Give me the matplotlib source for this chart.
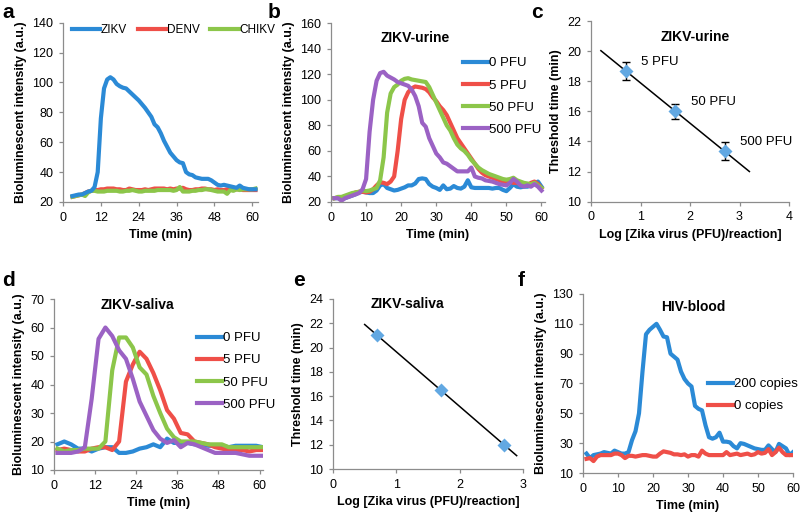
import matplotlib
matplotlib.use("Agg")
import matplotlib.pyplot as plt
import numpy as np

plt.rcParams['font.family'] = ['Liberation Sans', 'DejaVu Sans']

BLUE = '#2b8ad6'
RED = '#ef4f48'
GREEN = '#8cc64a'
PURPLE = '#9b62c4'
DIAMOND = '#62a8e2'

# --- panel a: ZIKV / DENV / CHIKV, t = 3..61 min ---
t_a = np.arange(3, 62)
zikv_a = [24, 24.5, 25, 25, 26, 27, 27.5, 30, 40, 76, 96, 102, 103.5, 102, 99, 97.5, 96.5, 96,
          94, 92, 90, 88, 85.5, 83, 80, 77, 72, 70, 66, 61, 57, 53, 50.5, 48, 46.5, 46, 40,
          38.5, 38, 36.5, 36, 35.5, 35.5, 35.5, 34.5, 33, 31.5, 31, 31.5, 31, 30.5, 30, 29.5,
          31, 29.5, 29, 28.5, 28.5, 28.5]
denv_a = [23.5, 24, 24.5, 25, 26, 27, 27.5, 28, 28, 28.5, 28.5, 29, 29, 29, 28.5, 28.5, 28, 28,
          29, 28.5, 28, 28, 28, 28.5, 28, 28.5, 29, 29, 29, 29, 28.5, 29, 28.5, 29, 29, 29.5,
          28.5, 28, 28, 28.5, 28.5, 29, 29, 28.5, 28.5, 28, 28.5, 28, 28, 28.5, 28.5, 28, 28.5,
          28.5, 28, 28, 28, 28, 28]
chikv_a = [23.5, 24, 24.5, 25, 24, 26.5, 27.5, 27.5, 27, 27, 27, 27.5, 27.5, 27.5, 27.5, 27, 27,
           27.5, 27.5, 28, 27.5, 27, 27, 27.5, 27.5, 27.5, 27.5, 28, 28, 28, 28, 28, 27.5, 28,
           30, 27, 27, 27, 27.5, 27.5, 28, 28, 28.5, 28.5, 28, 27.5, 27, 27, 27, 25.5, 28, 27.5,
           28.5, 28, 28.5, 28.5, 28.5, 28.5, 29]

# --- panel b: ZIKV-urine, t = 1..60 min ---
t_b = np.arange(1, 61)
pfu0_b = [23, 23, 22.5, 23, 24, 25, 26, 27.5, 28, 27.5, 27, 27, 29, 33, 34, 31, 30, 29, 29.5, 30.5,
          31.5, 33, 33, 34.5, 38, 38.5, 38, 34, 32, 31, 29.5, 33, 30, 30.5, 32.5, 31, 30.5, 32, 37,
          31.5, 31, 31, 31, 31, 31, 30.5, 31, 31, 29.5, 28.5, 31, 34, 32, 31.5, 32, 32, 33, 34, 36, 32]
pfu5_b = [23, 23.5, 23, 24, 25, 26, 27.5, 28, 28, 27.5, 28, 30, 33, 35.5, 35, 34, 36, 40, 60, 85,
          100, 106, 109, 110.5, 110, 109.5, 108.5, 106, 102, 99, 95, 92, 88, 82, 76, 70, 66, 62, 58,
          54, 50, 46, 43, 41, 40, 39, 38, 37, 36, 35, 36, 35, 35, 34, 33, 33, 35, 36, 34, 31]
pfu50_b = [23, 24, 24, 25, 26, 27, 27.5, 28, 29, 28.5, 29, 30, 31, 37, 55, 90, 105, 110, 112, 115,
           116.5, 117, 116, 115.5, 115, 114.5, 114, 110, 104, 98, 92, 86, 80, 76, 70, 65, 62, 60,
           57, 53, 50, 47, 45, 43.5, 42, 41, 40, 39, 38, 37.5, 38, 39, 37, 36, 35, 34.5, 34, 35, 33, 31]
pfu500_b = [23, 23, 21, 23, 24, 25, 26, 27, 30, 38, 75, 100, 115, 121, 122, 119, 117.5, 116, 114,
            113, 112, 111, 108, 103, 95, 82, 79, 70, 64, 58, 55, 51, 50, 48, 46, 44, 44, 44, 44, 47,
            40, 39, 38.5, 37, 36.5, 36, 35, 34, 33.5, 33, 35, 38, 36, 33, 32, 33, 32, 34, 32, 29]

# --- panel c: ZIKV-urine threshold times ---
log_c = [0.7, 1.7, 2.7]
thr_c = [18.7, 16.0, 13.35]
err_c = [0.6, 0.5, 0.6]
lab_c = ['5 PFU', '50 PFU', '500 PFU']

# --- panel d: ZIKV-saliva, t = 1..61 min (2 min steps) ---
t_d = np.arange(1, 62, 2)
pfu0_d = [19, 20, 19, 17.5, 17.5, 16.5, 17.5, 18, 18, 16, 16, 16.5, 17.5, 18, 19, 18, 21, 19.5,
          19.5, 19.5, 19, 19, 18.5, 18.5, 18.5, 18, 18.5, 18.5, 18.5, 18.5, 18]
pfu5_d = [17, 17.5, 17, 16.5, 16.5, 17.5, 18, 18, 17, 20, 41, 47, 51.5, 49, 44, 38, 31, 28, 23,
          22.5, 20, 19.5, 19, 18, 17.5, 17, 17, 17, 16.5, 17, 17]
pfu50_d = [17.5, 16.5, 17, 17, 17.5, 17.5, 17.5, 20, 45, 56.5, 56.5, 53, 46, 43.5, 36, 30, 24.5,
           21.5, 20, 20, 20, 19.5, 19, 19, 19, 18, 18, 18, 18, 18, 18]
pfu500_d = [16, 16, 16, 16.5, 18, 35, 56, 60, 57, 52, 49, 42, 34, 29, 24, 21, 19.5, 20.5, 18, 19.5,
            19, 18, 17, 16, 16, 16, 16, 15.5, 15, 15, 15]

# --- panel e: ZIKV-saliva threshold times ---
log_e = [0.7, 1.7, 2.7]
thr_e = [21.0, 16.5, 12.0]

# --- panel f: HIV-blood, t = 1..60 min ---
t_f = np.arange(1, 61)
hiv200_f = [23, 20, 22, 22.5, 23, 24, 23.5, 23, 25, 24, 23, 23, 24, 32, 38, 50, 78, 103, 106, 108,
            110, 106, 101.5, 101, 90, 88, 86, 78, 73, 70, 68, 55, 53, 52, 42, 34, 33, 34, 37, 31,
            31, 30.5, 28, 26.5, 30, 29.5, 28.5, 27.5, 26.5, 26, 25.5, 25.5, 28.5, 26, 24, 29.5, 28,
            26.5, 22, 24]
hiv0_f = [19.5, 20, 18, 21, 22, 22, 22, 22, 23, 23, 22, 20, 21.5, 21.5, 21, 21.5, 22, 22, 21.5, 21,
          21, 23, 24.5, 24, 23.5, 22.5, 22.5, 22, 22.5, 21, 22, 22, 21, 25, 23, 22, 22, 22, 22, 22,
          24, 22, 22.5, 23, 22, 22.5, 23, 22, 22.5, 24, 23, 23.5, 26, 22, 24, 27, 24, 22, 22, 22]

W, H = 800, 514
fig = plt.figure(figsize=(W / 100, H / 100), dpi=100)


def make_axes(x0, x1, ytop, ybot):
    # pixel box -> figure fraction
    return fig.add_axes([x0 / W, 1 - ybot / H, (x1 - x0) / W, (ybot - ytop) / H])


def style(ax):
    for s in ['top', 'right']:
        ax.spines[s].set_visible(False)
    for s in ['left', 'bottom']:
        ax.spines[s].set_color('#8c8c8c')
        ax.spines[s].set_linewidth(0.9)
    ax.tick_params(direction='out', length=3, width=0.9, color='#8c8c8c',
                   labelsize=9, pad=4)


lw = 3.0
leg_kw = dict(frameon=False, fontsize=9.5, handlelength=1.9, handletextpad=0.05,
              borderpad=0, borderaxespad=0, loc='upper left')

# a
ax = make_axes(63, 258, 22.7, 202)
ax.plot(t_a, zikv_a, color=BLUE, lw=lw, label='ZIKV', zorder=3)
ax.plot(t_a, denv_a, color=RED, lw=lw, label='DENV', zorder=2)
ax.plot(t_a, chikv_a, color=GREEN, lw=lw, label='CHIKV', zorder=2.5)
ax.set_xlim(0, 61.8)
ax.set_ylim(20, 140)
ax.set_xticks(np.arange(0, 61, 12))
ax.set_yticks(np.arange(20, 141, 20))
ax.set_xlabel('Time (min)', fontsize=9, fontweight='bold')
ax.set_ylabel('Bioluminescent intensity (a.u.)', fontsize=9, fontweight='bold')
style(ax)
ax.legend(ncol=3, bbox_to_anchor=(0.046, 0.99), columnspacing=0.9,
          **{**leg_kw, 'handlelength': 2.4, 'fontsize': 8.5})

# b
ax = make_axes(331, 545, 23.3, 202)
ax.plot(t_b, pfu0_b, color=BLUE, lw=lw, label='0 PFU')
ax.plot(t_b, pfu5_b, color=RED, lw=lw, label='5 PFU')
ax.plot(t_b, pfu50_b, color=GREEN, lw=lw, label='50 PFU')
ax.plot(t_b, pfu500_b, color=PURPLE, lw=lw, label='500 PFU')
ax.set_xlim(0, 61)
ax.set_ylim(20, 160)
ax.set_xticks(np.arange(0, 61, 10))
ax.set_yticks(np.arange(20, 161, 20))
ax.set_xlabel('Time (min)', fontsize=9, fontweight='bold')
ax.set_ylabel('Bioluminescent intensity (a.u.)', fontsize=9, fontweight='bold')
ax.text(0.393, 0.92, 'ZIKV-urine', transform=ax.transAxes, ha='center', va='center',
        fontsize=10, fontweight='bold')
style(ax)
ax.legend(bbox_to_anchor=(0.617, 0.81), labelspacing=0.75, **leg_kw)

# c
ax = make_axes(591, 789, 21, 201.7)
coef = np.polyfit(log_c, thr_c, 1)
xl = np.array([0.2, 3.2])
ax.plot(xl, np.polyval(coef, xl), color='black', lw=1.1, zorder=2)
ax.errorbar(log_c, thr_c, yerr=err_c, fmt='none', ecolor='black', elinewidth=1.0,
            capsize=3, capthick=1.0, zorder=3)
ax.plot(log_c, thr_c, 'D', color=DIAMOND, ms=7.5, mec='none', zorder=4)
for x, y, s in zip(log_c, thr_c, lab_c):
    ax.text(x + 0.32, y + 0.6, s, fontsize=9.5, va='center', ha='left')
ax.set_xlim(0, 4)
ax.set_ylim(10, 22)
ax.set_xticks(np.arange(0, 5, 1))
ax.set_yticks(np.arange(10, 23, 2))
ax.set_xlabel('Log [Zika virus (PFU)/reaction]', fontsize=9, fontweight='bold')
ax.set_ylabel('Threshold time (min)', fontsize=9, fontweight='bold')
ax.text(0.525, 0.91, 'ZIKV-urine', transform=ax.transAxes, ha='center', va='center',
        fontsize=10, fontweight='bold')
style(ax)

# d
ax = make_axes(54, 263, 299, 470)
ax.plot(t_d, pfu0_d, color=BLUE, lw=lw, label='0 PFU')
ax.plot(t_d, pfu5_d, color=RED, lw=lw, label='5 PFU')
ax.plot(t_d, pfu50_d, color=GREEN, lw=lw, label='50 PFU')
ax.plot(t_d, pfu500_d, color=PURPLE, lw=lw, label='500 PFU')
ax.set_xlim(0, 61)
ax.set_ylim(10, 70)
ax.set_xticks(np.arange(0, 61, 12))
ax.set_yticks(np.arange(10, 71, 10))
ax.set_xlabel('Time (min)', fontsize=9, fontweight='bold')
ax.set_ylabel('Bioluminescent intensity (a.u.)', fontsize=9, fontweight='bold')
ax.text(0.40, 0.965, 'ZIKV-saliva', transform=ax.transAxes, ha='center', va='center',
        fontsize=10, fontweight='bold')
style(ax)
ax.legend(bbox_to_anchor=(0.684, 0.807), labelspacing=0.75, **leg_kw)

# e
ax = make_axes(333, 523, 299, 469)
coef = np.polyfit(log_e, thr_e, 1)
xl = np.array([0.5, 2.9])
ax.plot(xl, np.polyval(coef, xl), color='black', lw=1.1, zorder=2)
ax.plot(log_e, thr_e, 'D', color=DIAMOND, ms=7.5, mec='none', zorder=4)
ax.set_xlim(0, 3)
ax.set_ylim(10, 24)
ax.set_xticks(np.arange(0, 4, 1))
ax.set_yticks(np.arange(10, 25, 2))
ax.set_xlabel('Log [Zika virus (PFU)/reaction]', fontsize=9, fontweight='bold')
ax.set_ylabel('Threshold time (min)', fontsize=9, fontweight='bold')
ax.text(0.39, 0.97, 'ZIKV-saliva', transform=ax.transAxes, ha='center', va='center',
        fontsize=10, fontweight='bold')
style(ax)

# f
ax = make_axes(583, 793, 294, 473)
ax.plot(t_f, hiv200_f, color=BLUE, lw=lw, label='200 copies')
ax.plot(t_f, hiv0_f, color=RED, lw=lw, label='0 copies')
ax.set_xlim(0, 60)
ax.set_ylim(10, 130)
ax.set_xticks(np.arange(0, 61, 10))
ax.set_yticks(np.arange(10, 131, 20))
ax.set_xlabel('Time (min)', fontsize=9, fontweight='bold')
ax.set_ylabel('Bioluminescent intensity (a.u.)', fontsize=9, fontweight='bold')
ax.text(0.524, 0.927, 'HIV-blood', transform=ax.transAxes, ha='center', va='center',
        fontsize=10, fontweight='bold')
style(ax)
ax.legend(bbox_to_anchor=(0.595, 0.53), labelspacing=0.75, **leg_kw)

# panel letters
for letter, (px, py) in zip('abcdef', [(2, 12), (268, 12), (531, 12),
                                        (2, 280), (293, 280), (518, 280)]):
    fig.text(px / W, 1 - py / H, letter, fontsize=15, fontweight='bold',
             ha='left', va='center')

fig.savefig('out.png', dpi=100)
